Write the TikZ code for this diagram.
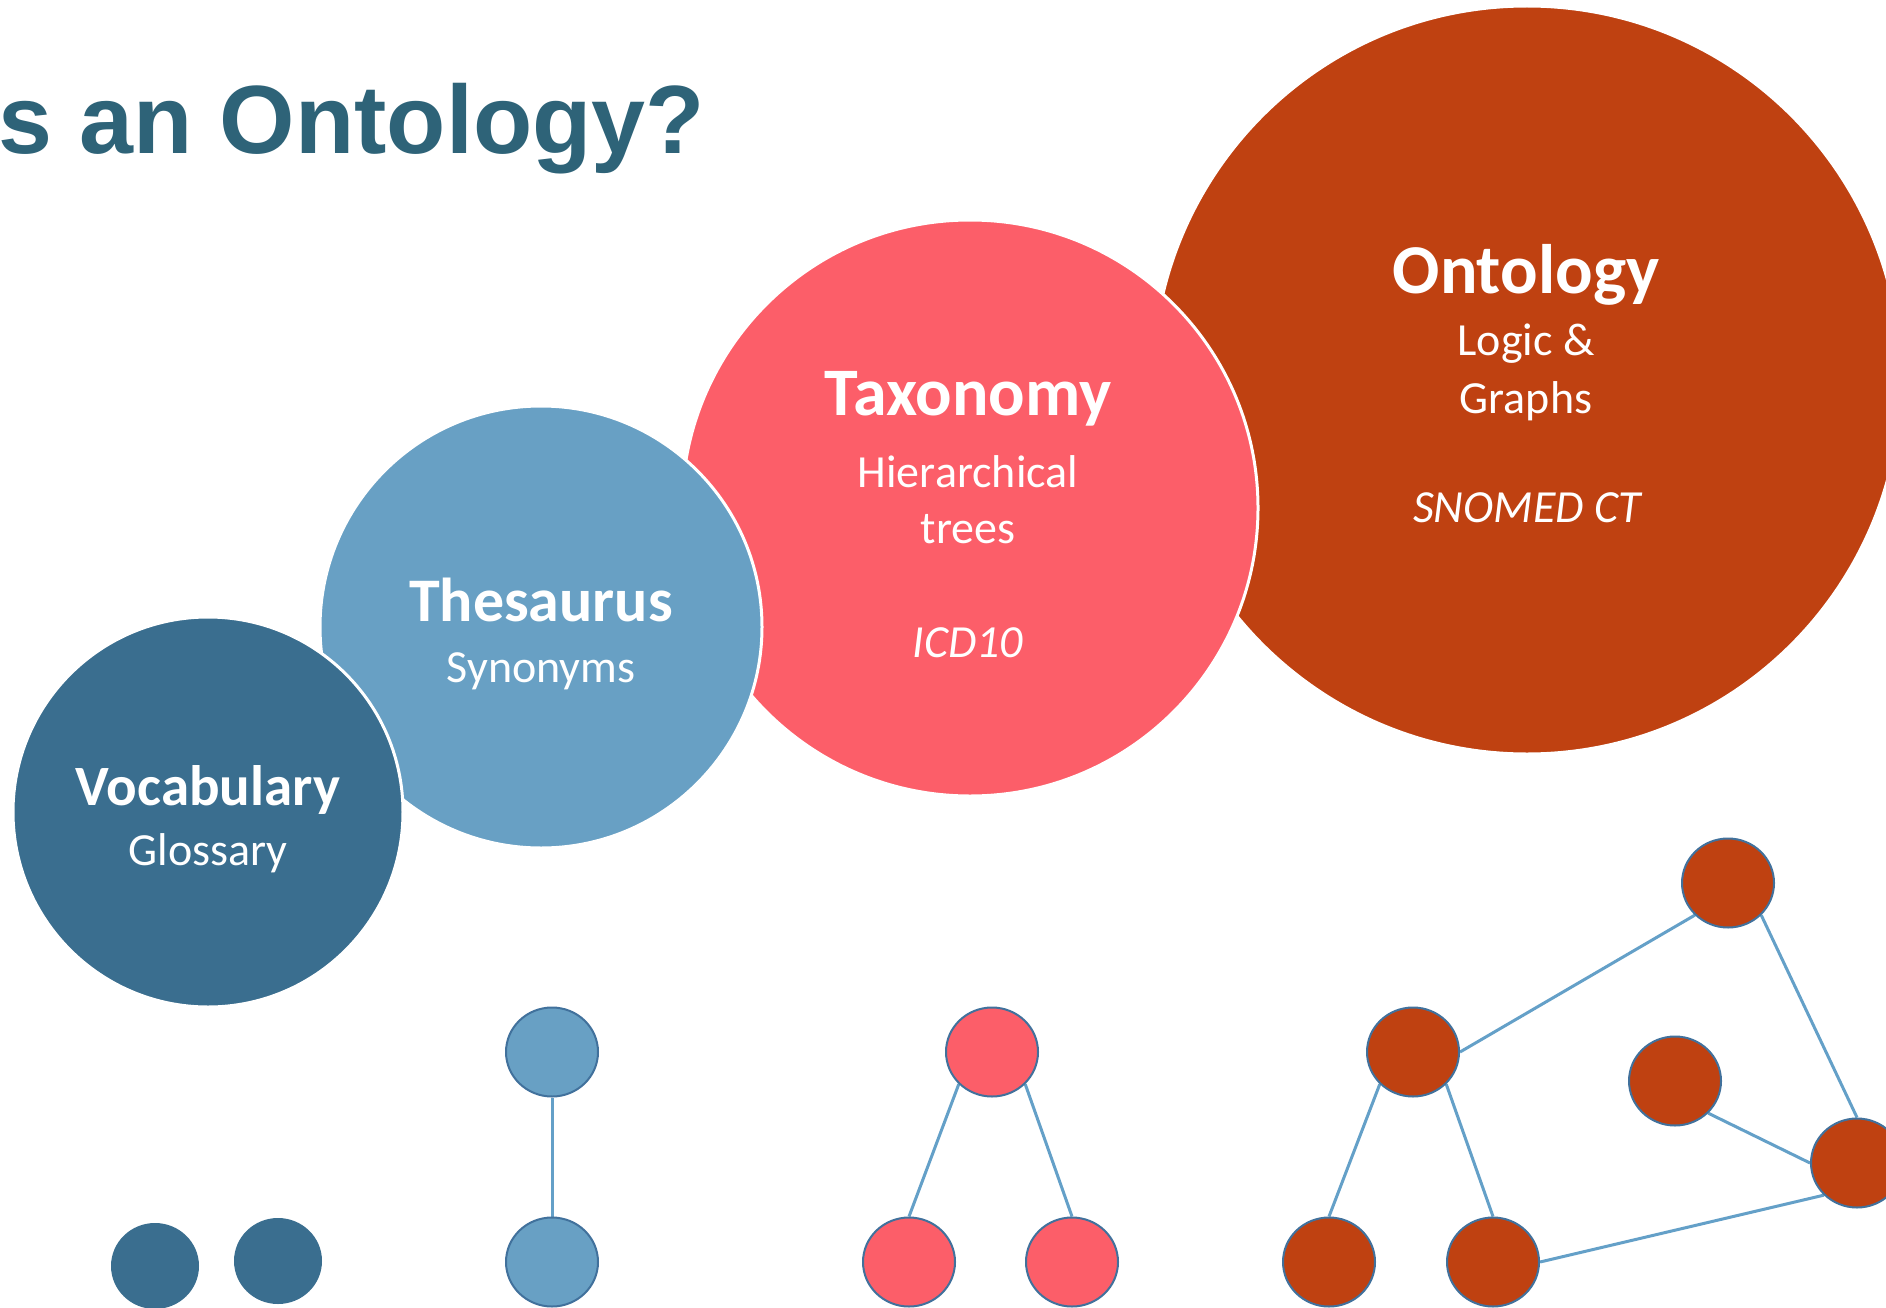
\documentclass[tikz,border=0pt]{standalone}
\usepackage{fontspec}
\setmainfont{Carlito}
\newfontfamily\headfont{Liberation Sans}
\usetikzlibrary{shapes.geometric}
\pgfdeclarelayer{paper}
\pgfdeclarelayer{edges}
\pgfsetlayers{paper,edges,main}

\definecolor{vocfill}{HTML}{3A6E8F}
\definecolor{thefill}{HTML}{68A0C4}
\definecolor{taxfill}{HTML}{FC5E69}
\definecolor{ontfill}{HTML}{BF4111}
\definecolor{titleblue}{HTML}{2E6378}
\definecolor{nodeline}{HTML}{41719C}
\definecolor{edgeblue}{HTML}{64A0C8}

\tikzset{
  bigcircle/.style={circle, draw=white, line width=3pt, inner sep=0pt, minimum size=#1},
  headtext/.style={anchor=base, inner sep=0pt, text=white, font=\fontsize{#1}{#1}\selectfont\bfseries},
  subtext/.style={anchor=base, inner sep=0pt, text=white, font=\fontsize{46}{46}\selectfont},
  subital/.style={anchor=base, inner sep=0pt, text=white, font=\fontsize{46}{46}\selectfont\itshape},
  dot/.style={ellipse, inner sep=0pt, minimum width=92pt, minimum height=89pt, draw=nodeline, line width=2pt, fill=#1},
  plaindot/.style={ellipse, inner sep=0pt, minimum width=88pt, minimum height=86pt, fill=vocfill},
  link/.style={draw=edgeblue, line width=3pt}
}

\begin{document}
\begin{tikzpicture}[x=1pt, y=-1pt]
  \useasboundingbox (0,0) rectangle (1886,1308);
  \clip (0,0) rectangle (1886,1308);
  \begin{pgfonlayer}{paper}
    \fill[white] (0,0) rectangle (1886,1308);
  \end{pgfonlayer}

  % heading
  \node[anchor=base east, inner sep=0pt, text=titleblue,
        font=\headfont\fontsize{97}{97}\selectfont\bfseries] (title) at (705,154) {s an Ontology?};

  % the four overlapping circles, back to front
  \node[bigcircle=748pt, fill=ontfill] (ont) at (1527,380) {};
  \node[bigcircle=576pt, fill=taxfill] (tax) at (970,508) {};
  \node[bigcircle=442pt, fill=thefill] (the) at (541,627) {};
  \node[bigcircle=390pt, fill=vocfill] (voc) at (208,812) {};

  % circle labels
  \node[headtext=57] (vocA) at (208,805) {Vocabulary};
  \node[subtext] (vocB) at (208,865) {Glossary};

  \node[headtext=62] (theA) at (541,621) {Thesaurus};
  \node[subtext] (theB) at (541,682) {Synonyms};

  \node[headtext=68] (taxA) at (968,415) {Taxonomy};
  \node[subtext] (taxB) at (968,487) {Hierarchical};
  \node[subtext] (taxC) at (968,543) {trees};
  \node[subital] (taxD) at (968,657) {ICD10};

  \node[headtext=70] (ontA) at (1526,293) {Ontology};
  \node[subtext] (ontB) at (1526,355) {Logic \&};
  \node[subtext] (ontC) at (1526,413) {Graphs};
  \node[subital] (ontD) at (1527,522) {SNOMED CT};

  % vocabulary: unconnected terms
  \node[plaindot] (v1) at (155,1266) {};
  \node[plaindot] (v2) at (278,1261) {};

  % thesaurus: a pair of synonyms
  \node[dot=thefill] (s1) at (552,1052) {};
  \node[dot=thefill] (s2) at (552,1262) {};

  % taxonomy: a small tree
  \node[dot=taxfill] (t1) at (992,1052) {};
  \node[dot=taxfill] (t2) at (909,1262) {};
  \node[dot=taxfill] (t3) at (1072,1262) {};

  % ontology: a graph
  \node[dot=ontfill] (o1) at (1413,1052) {};
  \node[dot=ontfill] (o2) at (1329,1262) {};
  \node[dot=ontfill] (o3) at (1493,1262) {};
  \node[dot=ontfill] (o4) at (1728,883) {};
  \node[dot=ontfill] (o5) at (1675,1081) {};
  \node[dot=ontfill] (o6) at (1857,1163) {};

  \begin{pgfonlayer}{edges}
    \draw[link] (s1.south) -- (s2.north);
    \draw[link] (t1.south west) -- (t2.north);
    \draw[link] (t1.south east) -- (t3.north);
    \draw[link] (o1.south west) -- (o2.north);
    \draw[link] (o1.south east) -- (o3.north);
    \draw[link] (o1.east) -- (o4.south west);
    \draw[link] (o4.south east) -- (o6.north);
    \draw[link] (o5.south east) -- (o6.west);
    \draw[link] (o3.east) -- (o6.south west);
  \end{pgfonlayer}
\end{tikzpicture}
\end{document}
